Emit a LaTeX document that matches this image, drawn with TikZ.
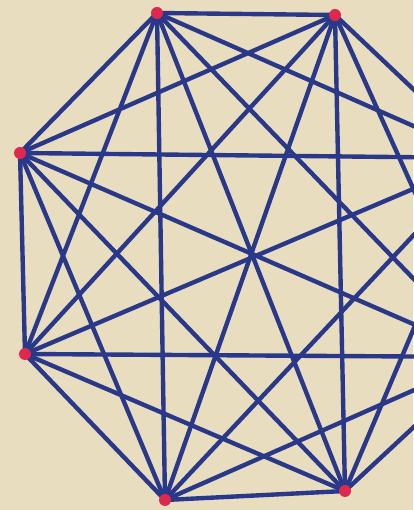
\documentclass[tikz,border=0pt]{standalone}
\usepackage{xcolor}
\usepackage{tikz}
\usetikzlibrary{backgrounds}

\definecolor{paper}{RGB}{233,221,192}
\definecolor{inkblue}{RGB}{42,56,138}
\definecolor{dotred}{RGB}{222,40,78}

\begin{document}
\begin{tikzpicture}[
    x=0.02cm, y=0.02cm,
    vertex/.style={circle, fill=dotred, inner sep=0pt, minimum size=0.24cm},
    edge/.style={draw=inkblue, line width=2.5pt, line cap=round}
]
    \useasboundingbox (0,0) rectangle (413,510);
    \clip (0,0) rectangle (413,510);

    % the eight corners of the octagon (two lie beyond the right edge)
    \node [vertex] (v1) at (157,497) {};
    \node [vertex] (v2) at (335,495) {};
    \node [vertex] (v3) at (486,352) {};
    \node [vertex] (v4) at (489,153) {};
    \node [vertex] (v5) at (345,19) {};
    \node [vertex] (v6) at (165,10) {};
    \node [vertex] (v7) at (25,156) {};
    \node [vertex] (v8) at (20,357) {};

    % every pair joined
    \begin{scope}[on background layer]
        \fill [paper] (0,0) rectangle (413,510);
        \foreach \i in {1,...,7} {
            \pgfmathtruncatemacro{\j}{\i+1}
            \foreach \k in {\j,...,8} {
                \draw [edge] (v\i.center) -- (v\k.center);
            }
        }
    \end{scope}
\end{tikzpicture}
\end{document}
